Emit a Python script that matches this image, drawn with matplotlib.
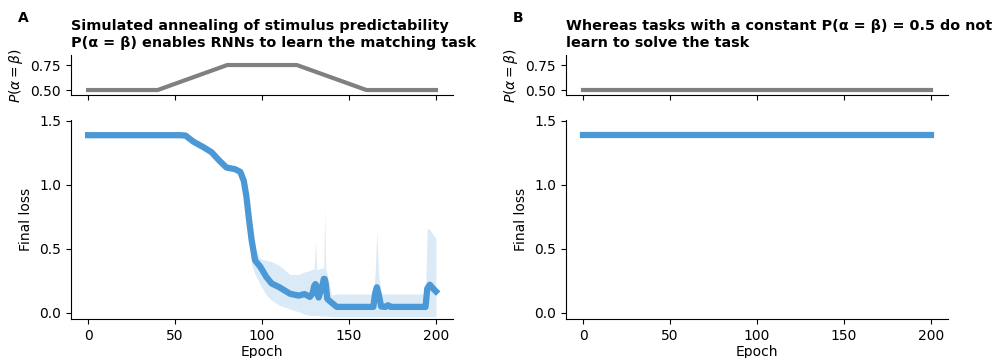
import matplotlib
matplotlib.use('Agg')
import matplotlib.pyplot as plt

# annealing schedule of P(alpha = beta)
sched_epoch = [0, 40, 80, 120, 160, 200]
sched_p = [0.5, 0.5, 0.75, 0.75, 0.5, 0.5]
const_p = [0.5, 0.5]
const_epoch = [0, 200]

# final loss (mean and band) for annealed training
epoch = [0, 53, 56, 60.5, 66, 71, 75, 79.5, 84.5, 87.5, 89.5, 91, 92.5, 94, 96, 99,
         102.5, 105.5, 110, 116, 121, 124.5, 127.5, 129, 130, 130.7, 131.4, 132.5,
         134.5, 135.5, 136, 136.6, 137.5, 140, 143, 164, 165, 166, 167, 168.5, 171,
         172.5, 174, 194, 195, 196.5, 198, 200]
loss_mean = [1.386, 1.386, 1.383, 1.336, 1.295, 1.253, 1.194, 1.134, 1.121, 1.10, 1.03,
             0.91, 0.73, 0.57, 0.41, 0.36, 0.28, 0.23, 0.20, 0.15, 0.135, 0.147, 0.125,
             0.15, 0.21, 0.225, 0.21, 0.12, 0.20, 0.265, 0.265, 0.23, 0.11, 0.08, 0.047,
             0.047, 0.15, 0.20, 0.15, 0.05, 0.047, 0.06, 0.047, 0.047, 0.19, 0.22, 0.195,
             0.168]
loss_lo = [1.383, 1.383, 1.375, 1.325, 1.28, 1.24, 1.18, 1.12, 1.11, 1.08, 0.98, 0.83,
           0.62, 0.38, 0.30, 0.22, 0.14, 0.10, 0.06, 0.03, 0.01, -0.01, -0.02, -0.02,
           -0.02, -0.02, -0.02, -0.02, -0.025, -0.025, -0.025, -0.025, -0.025, -0.03,
           -0.03, -0.03, -0.03, -0.03, -0.03, -0.03, -0.03, -0.03, -0.03, -0.03, -0.03,
           -0.03, -0.03, -0.03]
loss_hi = [1.389, 1.389, 1.39, 1.35, 1.31, 1.28, 1.21, 1.15, 1.13, 1.12, 1.10, 1.02,
           0.85, 0.68, 0.50, 0.42, 0.41, 0.40, 0.37, 0.30, 0.30, 0.32, 0.33, 0.34, 0.34,
           0.56, 0.34, 0.34, 0.35, 0.35, 0.82, 0.35, 0.30, 0.14, 0.147, 0.147, 0.30,
           0.634, 0.30, 0.147, 0.147, 0.147, 0.147, 0.147, 0.66, 0.65, 0.62, 0.58]

# constant P = 0.5: loss stays at chance
const_loss = [1.386, 1.386]

blue = '#4a98d6'
plt.rcParams['font.size'] = 10

fig = plt.figure(figsize=(9.92, 3.58), dpi=100)

panels = [(0.0713, 'A', 'Simulated annealing of stimulus predictability\n'
           'P(α = β) enables RNNs to learn the matching task'),
          (0.5703, 'B', 'Whereas tasks with a constant P(α = β) = 0.5 do not\n'
           'learn to solve the task')]
width = 0.3857

for i, (left, letter, title) in enumerate(panels):
    ax_top = fig.add_axes([left, 0.7346, width, 0.1117])
    ax = fig.add_axes([left, 0.108, width, 0.557], sharex=ax_top)

    if i == 0:
        ax_top.plot(sched_epoch, sched_p, color='gray', lw=3)
        ax.fill_between(epoch, loss_lo, loss_hi, color=blue, alpha=0.2, lw=0)
        ax.plot(epoch, loss_mean, color=blue, lw=4.5)
    else:
        ax_top.plot(const_epoch, const_p, color='gray', lw=3)
        ax.plot(const_epoch, const_loss, color=blue, lw=4.5)

    ax_top.set_ylim(0.45, 0.85)
    ax_top.set_yticks([0.5, 0.75])
    ax_top.set_yticklabels(['0.50', '0.75'])
    ax_top.set_ylabel(r'$P(\alpha=\beta)$')
    ax_top.tick_params(labelbottom=False)
    ax_top.set_title(title, loc='left', fontweight='bold', fontsize=10.4)

    ax.set_xlim(-10, 210)
    ax.set_xticks([0, 50, 100, 150, 200])
    ax.set_ylim(-0.05, 1.505)
    ax.set_yticks([0.0, 0.5, 1.0, 1.5])
    ax.set_xlabel('Epoch', labelpad=1.5)
    ax.set_ylabel('Final loss')

    for a in (ax_top, ax):
        a.spines['top'].set_visible(False)
        a.spines['right'].set_visible(False)

    fig.text(left - 0.053, 0.968, letter, fontweight='bold', fontsize=10, va='top')

fig.savefig('out.png', dpi=100)
